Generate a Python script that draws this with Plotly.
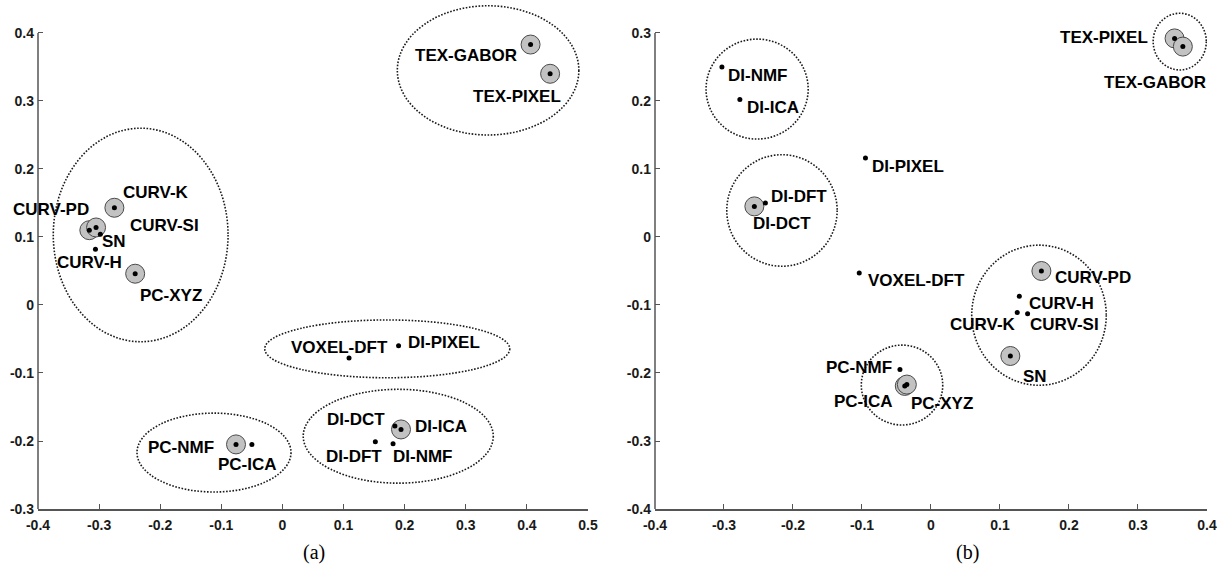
import plotly.graph_objects as go

# ---------------- data: panel (a) ----------------
a_names = ["CURV-K", "CURV-PD", "CURV-SI", "SN", "CURV-H", "PC-XYZ", "TEX-GABOR", "TEX-PIXEL",
           "PC-NMF", "PC-ICA", "VOXEL-DFT", "DI-PIXEL", "DI-DCT", "DI-ICA", "DI-DFT", "DI-NMF"]
a_x = [-0.275, -0.316, -0.305, -0.298, -0.306, -0.241, 0.406, 0.438,
       -0.076, -0.050, 0.109, 0.190, 0.184, 0.194, 0.152, 0.181]
a_y = [0.143, 0.110, 0.114, 0.104, 0.082, 0.046, 0.383, 0.340,
       -0.205, -0.205, -0.078, -0.060, -0.178, -0.183, -0.201, -0.204]
a_ringed = ["CURV-K", "CURV-PD", "CURV-SI", "PC-XYZ", "TEX-GABOR", "TEX-PIXEL", "PC-NMF", "DI-ICA"]
# cluster bounds (x0, x1, y0, y1)
a_clusters = [(-0.375, -0.089, -0.054, 0.260), (0.188, 0.485, 0.25, 0.44), (-0.238, 0.014, -0.275, -0.159),
              (-0.029, 0.372, -0.107, -0.022), (0.034, 0.345, -0.262, -0.124)]

# ---------------- data: panel (b) ----------------
b_names = ["DI-NMF", "DI-ICA", "DI-PIXEL", "DI-DFT", "DI-DCT", "VOXEL-DFT", "TEX-PIXEL", "TEX-GABOR",
           "CURV-PD", "CURV-H", "CURV-K", "CURV-SI", "SN", "PC-NMF", "PC-ICA", "PC-XYZ"]
b_x = [-0.303, -0.277, -0.095, -0.240, -0.256, -0.104, 0.353, 0.365,
       0.160, 0.128, 0.125, 0.140, 0.115, -0.045, -0.038, -0.035]
b_y = [0.250, 0.202, 0.116, 0.050, 0.045, -0.053, 0.292, 0.280,
       -0.050, -0.087, -0.111, -0.113, -0.175, -0.195, -0.219, -0.217]
b_ringed = ["DI-DCT", "TEX-PIXEL", "TEX-GABOR", "CURV-PD", "SN", "PC-ICA", "PC-XYZ"]
b_clusters = [(-0.326, -0.178, 0.144, 0.291), (-0.296, -0.136, -0.043, 0.121), (0.322, 0.399, 0.2456, 0.329),
              (0.059, 0.254, -0.218, -0.012), (-0.101, 0.017, -0.2765, -0.159)]

# ---------------- tick labels ----------------
a_xticks = [-0.4, -0.3, -0.2, -0.1, 0, 0.1, 0.2, 0.3, 0.4, 0.5]
a_xtext = ["-0.4", "-0.3", "-0.2", "-0.1", "0", "0.1", "0.2", "0.3", "0.4", "0.5"]
a_yticks = [-0.3, -0.2, -0.1, 0, 0.1, 0.2, 0.3, 0.4]
a_ytext = ["-0.3", "-0.2", "-0.1", "0", "0.1", "0.2", "0.3", "0.4"]
b_xticks = [-0.4, -0.3, -0.2, -0.1, 0, 0.1, 0.2, 0.3, 0.4]
b_xtext = ["-0.4", "-0.3", "-0.2", "-0.1", "0", "0.1", "0.2", "0.3", "0.4"]
b_yticks = [-0.4, -0.3, -0.2, -0.1, 0, 0.1, 0.2, 0.3]
b_ytext = ["-0.4", "-0.3", "-0.2", "-0.1", "0", "0.1", "0.2", "0.3"]

# ---------------- label placement (pixel offsets: right, up) ----------------
a_label_off = {"CURV-K": (42, 15), "CURV-PD": (-38, 21), "CURV-SI": (68, 2), "SN": (14, -7),
               "CURV-H": (-6, -13), "PC-XYZ": (36, -22), "TEX-GABOR": (-65, -11), "TEX-PIXEL": (-33, -23),
               "PC-NMF": (-55, -3), "PC-ICA": (-4, -20), "VOXEL-DFT": (-10, 11), "DI-PIXEL": (45, 3),
               "DI-DCT": (-39, 7), "DI-ICA": (40, 3), "DI-DFT": (-21, -15), "DI-NMF": (29, -13)}
b_label_off = {"DI-NMF": (36, -9), "DI-ICA": (33, -8), "DI-PIXEL": (43, -8), "DI-DFT": (34, 6),
               "DI-DCT": (28, -17), "VOXEL-DFT": (57, -7), "TEX-PIXEL": (-71, 1), "TEX-GABOR": (-28, -36),
               "CURV-PD": (52, -7), "CURV-H": (42, -7), "CURV-K": (-34, -12), "CURV-SI": (37, -11),
               "SN": (25, -21), "PC-NMF": (-41, 2), "PC-ICA": (-41, -16), "PC-XYZ": (35, -19)}

FONT = "Liberation Sans, Arial, sans-serif"
AXIS_COL = "#555555"

a_xr = [-0.4, 0.5]
a_yr = [-0.3, 0.4485]
b_xr = [-0.4, 0.4]
b_yr = [-0.4, 0.3485]
a_dom = [0.0, 0.4705]
b_dom = [0.5278, 1.0]

fig = go.Figure()
shapes = []
annotations = []


def add_panel(names, xs, ys, ringed, clusters, offs, xref, yref):
    rx = [x for n, x in zip(names, xs) if n in ringed]
    ry = [y for n, y in zip(names, ys) if n in ringed]
    fig.add_trace(go.Scatter(x=rx, y=ry, mode="markers", xaxis=xref, yaxis=yref,
                             marker=dict(size=19, color="#c2c2c2", line=dict(color="#4a4a4a", width=1)),
                             cliponaxis=False, showlegend=False, hoverinfo="skip"))
    fig.add_trace(go.Scatter(x=xs, y=ys, mode="markers", xaxis=xref, yaxis=yref,
                             marker=dict(size=5, color="black"),
                             cliponaxis=False, showlegend=False, text=names, hoverinfo="text"))
    for (x0, x1, y0, y1) in clusters:
        shapes.append(dict(type="circle", xref=xref, yref=yref, x0=x0, x1=x1, y0=y0, y1=y1,
                           line=dict(color="#1a1a1a", width=1.6, dash="1.6px,1.6px"), layer="below"))
    for n, x, y in zip(names, xs, ys):
        dx, dy = offs[n]
        annotations.append(dict(x=x, y=y, xref=xref, yref=yref, text=n, showarrow=False,
                                xanchor="center", yanchor="middle", xshift=dx, yshift=dy,
                                font=dict(family=FONT, size=17, color="black", weight="bold")))


add_panel(a_names, a_x, a_y, a_ringed, a_clusters, a_label_off, "x", "y")
add_panel(b_names, b_x, b_y, b_ringed, b_clusters, b_label_off, "x2", "y2")

# y-axis lines (only up to the top tick)
for dom, yr, ytop in [(a_dom, a_yr, 0.4), (b_dom, b_yr, 0.3)]:
    frac = (ytop - yr[0]) / (yr[1] - yr[0])
    shapes.append(dict(type="line", xref="paper", yref="paper", x0=dom[0], x1=dom[0], y0=0, y1=frac,
                       line=dict(color=AXIS_COL, width=1.5)))

# panel captions
for txt, px in [("(a)", (313.5 - 38) / 1169), ("(b)", (967 - 38) / 1169)]:
    annotations.append(dict(x=px, y=(509 - 552) / 509, xref="paper", yref="paper", text=txt,
                            showarrow=False, xanchor="center", yanchor="middle",
                            font=dict(family="Liberation Serif, Times New Roman, serif", size=20, color="black")))

tickfont = dict(family=FONT, size=14, color="#1a1a1a", weight="bold")
common_x = dict(showgrid=False, zeroline=False, showline=True, linecolor=AXIS_COL, linewidth=1.5,
                ticks="inside", ticklen=5, tickcolor=AXIS_COL, tickwidth=1, tickfont=tickfont,
                ticklabelstandoff=2, fixedrange=True)
common_y = dict(showgrid=False, zeroline=False, showline=False,
                ticks="inside", ticklen=5, tickcolor=AXIS_COL, tickwidth=1, tickfont=tickfont,
                ticklabelstandoff=3, fixedrange=True)

fig.update_layout(
    width=1221, height=565,
    margin=dict(l=38, r=14, t=0, b=56),
    paper_bgcolor="white", plot_bgcolor="white",
    xaxis=dict(domain=a_dom, range=a_xr, tickvals=a_xticks, ticktext=a_xtext, anchor="y", **common_x),
    yaxis=dict(domain=[0, 1], range=a_yr, tickvals=a_yticks, ticktext=a_ytext, anchor="x", **common_y),
    xaxis2=dict(domain=b_dom, range=b_xr, tickvals=b_xticks, ticktext=b_xtext, anchor="y2", **common_x),
    yaxis2=dict(domain=[0, 1], range=b_yr, tickvals=b_yticks, ticktext=b_ytext, anchor="x2", **common_y),
    shapes=shapes,
    annotations=annotations,
    showlegend=False,
)

fig.write_html("out.html")
